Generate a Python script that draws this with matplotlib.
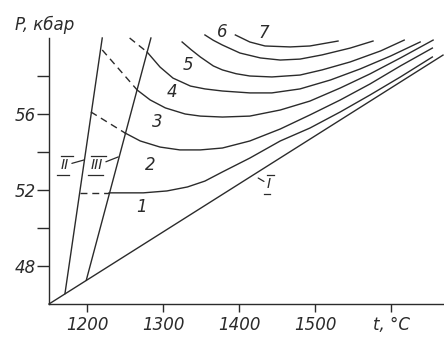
import matplotlib
matplotlib.use("Agg")
import matplotlib.pyplot as plt
from matplotlib.transforms import ScaledTranslation

# boundary lines I, II, III
t_I = [1150, 1668]
p_I = [46.0, 59.1]
t_II = [1171, 1220]
p_II = [46.55, 60.0]
t_III = [1199, 1284]
p_III = [47.25, 60.0]

# isolines 1..7: dashed part (metastable) and solid part
t1_dash = [1191, 1229]
p1_dash = [51.85, 51.85]
t1 = [1229, 1274, 1305, 1332, 1355, 1378, 1414, 1454, 1493, 1533, 1572, 1612, 1654]
p1 = [51.85, 51.85, 51.95, 52.16, 52.47, 52.95, 53.68, 54.58, 55.26, 56.11, 57.0, 57.95, 59.0]

t2_dash = [1205, 1250]
p2_dash = [56.11, 55.0]
t2 = [1250, 1270, 1296, 1322, 1349, 1378, 1414, 1454, 1493, 1533, 1572, 1612, 1654]
p2 = [55.0, 54.58, 54.26, 54.11, 54.11, 54.21, 54.58, 55.21, 55.95, 56.74, 57.58, 58.53, 59.47]

t3_dash = [1220, 1266]
p3_dash = [59.37, 57.26]
t3 = [1266, 1283, 1303, 1329, 1349, 1378, 1414, 1454, 1493, 1533, 1572, 1612, 1655]
p3 = [57.26, 56.74, 56.32, 56.0, 55.89, 55.84, 55.89, 56.21, 56.68, 57.37, 58.11, 58.95, 59.89]

t4_dash = [1256, 1279]
p4_dash = [60.0, 59.26]
t4 = [1279, 1296, 1313, 1336, 1355, 1378, 1414, 1443, 1480, 1520, 1559, 1599, 1638]
p4 = [59.26, 58.47, 57.89, 57.47, 57.32, 57.21, 57.11, 57.11, 57.32, 57.79, 58.37, 59.05, 59.79]

t5 = [1325, 1337, 1349, 1366, 1378, 1396, 1414, 1443, 1480, 1509, 1546, 1586, 1617]
p5 = [59.79, 59.38, 59.0, 58.53, 58.32, 58.12, 58.0, 57.95, 58.05, 58.32, 58.74, 59.32, 59.89]

t6 = [1355, 1366, 1378, 1401, 1428, 1454, 1480, 1509, 1546, 1576]
p6 = [60.16, 59.88, 59.63, 59.21, 58.95, 58.84, 58.89, 59.11, 59.47, 59.84]

t7 = [1395, 1414, 1434, 1467, 1493, 1530]
p7 = [60.16, 59.79, 59.58, 59.53, 59.58, 59.84]

# curve number labels
num_labels = ["1", "2", "3", "4", "5", "6", "7"]
num_t = [1272, 1283, 1292, 1312, 1333, 1378, 1432]
num_p = [51.1, 53.3, 55.6, 57.16, 58.58, 60.3, 60.26]

x_ticks = [1200, 1300, 1400, 1500, 1600]
x_ticklabels = ["1200", "1300", "1400", "1500", "t, °C"]
y_ticks = [48, 52, 56]
y_minor = [50, 54, 58]

ink = "#2b2b2b"
lw = 1.0

fig = plt.figure(figsize=(4.44, 3.39), dpi=100)
ax = fig.add_axes([49 / 444, 35 / 339, 394 / 444, 266 / 339])

plt.rcParams["font.family"] = "DejaVu Sans"
font = dict(style="italic", color=ink, fontsize=12)

ax.plot(t_I, p_I, color=ink, lw=lw, clip_on=False)
ax.plot(t_II, p_II, color=ink, lw=lw, clip_on=False)
ax.plot(t_III, p_III, color=ink, lw=lw, clip_on=False)

for td, pd_ in [(t1_dash, p1_dash), (t2_dash, p2_dash), (t3_dash, p3_dash), (t4_dash, p4_dash)]:
    ax.plot(td, pd_, color=ink, lw=lw, dashes=(5, 3.5), clip_on=False)

for t, p in [(t1, p1), (t2, p2), (t3, p3), (t4, p4), (t5, p5), (t6, p6), (t7, p7)]:
    ax.plot(t, p, color=ink, lw=lw, clip_on=False)

for s, t, p in zip(num_labels, num_t, num_p):
    ax.text(t, p, s, ha="center", va="center", **font)


def roman(x, y, s, half, tip):
    # numeral with bars above and below, plus a leader to its line
    ax.annotate(s, xy=tip, xytext=(x, y), ha="center", va="center",
                style="italic", color=ink, fontsize=10,
                arrowprops=dict(arrowstyle="-", color=ink, lw=0.9,
                                shrinkA=0, shrinkB=0))
    for dx, dy in ((1.2, 7), (-1.2, -7)):
        tr = ax.transData + ScaledTranslation(dx / 72, dy / 72, fig.dpi_scale_trans)
        ax.plot([x - half, x + half], [y, y], transform=tr, color=ink, lw=0.9,
                clip_on=False)


roman(1171, 53.3, "II", 8, (1196, 53.58))
roman(1213, 53.3, "III", 10, (1241, 53.74))
roman(1439, 52.3, "I", 4, (1425, 52.63))

ax.set_xlim(1150, 1668)
ax.set_ylim(46, 60)
for side in ("top", "right"):
    ax.spines[side].set_visible(False)
for side in ("left", "bottom"):
    ax.spines[side].set_color(ink)
    ax.spines[side].set_linewidth(lw)

ax.set_xticks(x_ticks)
ax.set_xticklabels(x_ticklabels, **font)
ax.set_yticks(y_ticks)
ax.set_yticklabels([str(v) for v in y_ticks], **font)
ax.set_yticks(y_minor, minor=True)
ax.tick_params(axis="x", direction="out", length=6, width=lw, color=ink, pad=3)
ax.tick_params(axis="y", which="both", direction="out", length=8.5, width=lw,
               color=ink, pad=1)

fig.text(15 / 444, 1 - 25 / 339, "P, кбар", ha="left", va="center", **font)

fig.savefig("out.png", dpi=100, facecolor="white")
